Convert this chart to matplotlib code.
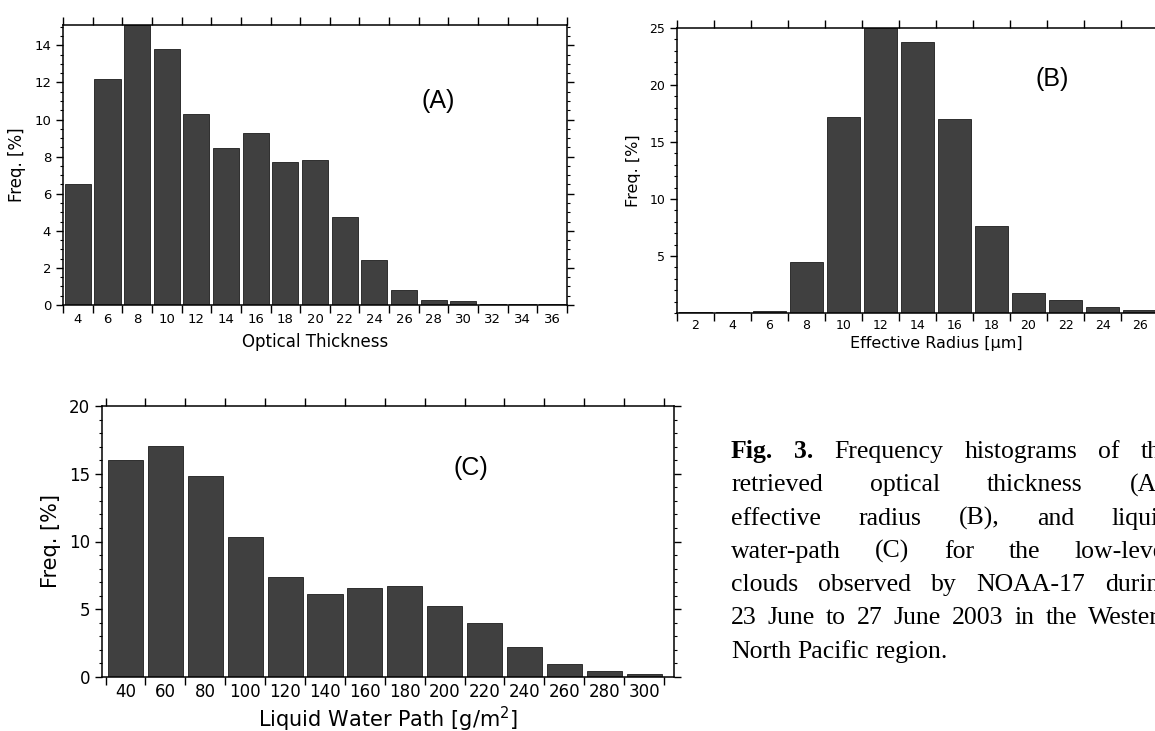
import matplotlib.pyplot as plt
import numpy as np
from matplotlib.ticker import MultipleLocator

W, H = 1155, 731

# (A) optical thickness, bin centres and frequency [%]
tau_bins = [4, 6, 8, 10, 12, 14, 16, 18, 20, 22, 24, 26, 28, 30, 32, 34, 36]
tau_freq = [6.5, 12.2, 15.1, 13.8, 10.3, 8.45, 9.25, 7.7, 7.8, 4.75, 2.4,
            0.83, 0.29, 0.2, 0.07, 0.07, 0.06]

# (B) effective radius [um]
re_bins = [2, 4, 6, 8, 10, 12, 14, 16, 18, 20, 22, 24, 26]
re_freq = [0.1, 0.1, 0.15, 4.5, 17.15, 25.0, 23.8, 17.05, 7.65, 1.75, 1.17,
           0.55, 0.3]

# (C) liquid water path [g/m2]
lwp_bins = [40, 60, 80, 100, 120, 140, 160, 180, 200, 220, 240, 260, 280, 300]
lwp_freq = [16.05, 17.03, 14.85, 10.3, 7.35, 6.1, 6.6, 6.7, 5.25, 3.95, 2.2,
            0.95, 0.45, 0.2]

caption = [
    "Fig. 3. Frequency histograms of the",
    "retrieved optical thickness (A),",
    "effective radius (B), and liquid",
    "water-path (C) for the low-level",
    "clouds observed by NOAA-17 during",
    "23 June to 27 June 2003 in the Western",
    "North Pacific region.",
]

BAR = '#404040'
EDGE = '#1c1c1c'

fig = plt.figure(figsize=(W / 100, H / 100), dpi=100)


def panel(box, bins, freq, bw, xlim, ylim, yticks, yminor, tag, tag_xy,
          xlabel, tick_fs, label_fs, tick_pad=4, labelpad=3):
    l, t, r, b = box
    ax = fig.add_axes([l / W, 1 - b / H, (r - l) / W, (b - t) / H])
    ax.bar(bins, freq, width=0.88 * bw, color=BAR, edgecolor=EDGE, lw=0.6)
    ax.set_xlim(*xlim)
    ax.set_ylim(*ylim)

    # tick marks sit on the bin edges, labels under the bin centres
    edges = np.arange(bins[0] - bw / 2, xlim[1] + 1e-6, bw)
    ax.set_xticks(edges)
    ax.set_xticklabels([])
    ax.set_xticks(bins, minor=True)
    ax.set_xticklabels([str(v) for v in bins], minor=True)
    ax.tick_params(axis='x', which='major', direction='out', length=6,
                   width=1, top=True, bottom=True)
    ax.tick_params(axis='x', which='minor', length=0, pad=tick_pad,
                   labelsize=tick_fs)

    ax.set_yticks(yticks)
    ax.yaxis.set_minor_locator(MultipleLocator(yminor))
    ax.tick_params(axis='y', which='both', direction='out', left=True,
                   right=True, labelsize=tick_fs)
    ax.tick_params(axis='y', which='major', length=5, width=1)
    ax.tick_params(axis='y', which='minor', length=2.5, width=0.8)

    for s in ax.spines.values():
        s.set_linewidth(1.1)

    ax.set_xlabel(xlabel, fontsize=label_fs, labelpad=labelpad)
    ax.set_ylabel('Freq. [%]', fontsize=label_fs, labelpad=6)
    ax.text(tag_xy[0], tag_xy[1], tag, transform=ax.transAxes,
            ha='center', va='center', fontsize=18, family='Liberation Sans')
    return ax


panel((63, 25, 567, 305), tau_bins, tau_freq, 2, (3, 37), (0, 15.1),
      range(0, 15, 2), 0.5, '(A)', (0.744, 0.73), 'Optical Thickness',
      9.5, 12, tick_pad=5.5, labelpad=5)

panel((677, 28, 1195, 313), re_bins, re_freq, 2, (1, 29), (0, 25),
      [5, 10, 15, 20, 25], 1, '(B)', (0.724, 0.82),
      'Effective Radius [\u00b5m]', 9, 11.5)

panel((102, 406, 674, 677), lwp_bins, lwp_freq, 20, (28.2, 315), (0, 20),
      [0, 5, 10, 15, 20], 1, '(C)', (0.645, 0.77),
      'Liquid Water Path [g/m$^2$]', 12, 15)

# justified caption block (runs past the right edge, as in the scan)
x0, x1 = 731, 1172
base0, step = 458, 33.3
fs = 18.5
renderer = fig.canvas.get_renderer()
for i, line in enumerate(caption):
    words = line.split(' ')
    y = 1 - (base0 + i * step) / H
    items = []
    for k, w in enumerate(words):
        bold = (i == 0 and k < 2)
        t = fig.text(0, y, w, fontsize=fs, family='Liberation Serif',
                     weight='bold' if bold else 'normal', va='baseline')
        items.append(t)
    widths = [t.get_window_extent(renderer).width for t in items]
    if i == len(caption) - 1:
        gap = fs * 0.25 * 100 / 72
    else:
        gap = (x1 - x0 - sum(widths)) / (len(words) - 1)
    x = x0
    for t, wd in zip(items, widths):
        t.set_x(x / W)
        x += wd + gap

fig.savefig('out.png', dpi=100)
